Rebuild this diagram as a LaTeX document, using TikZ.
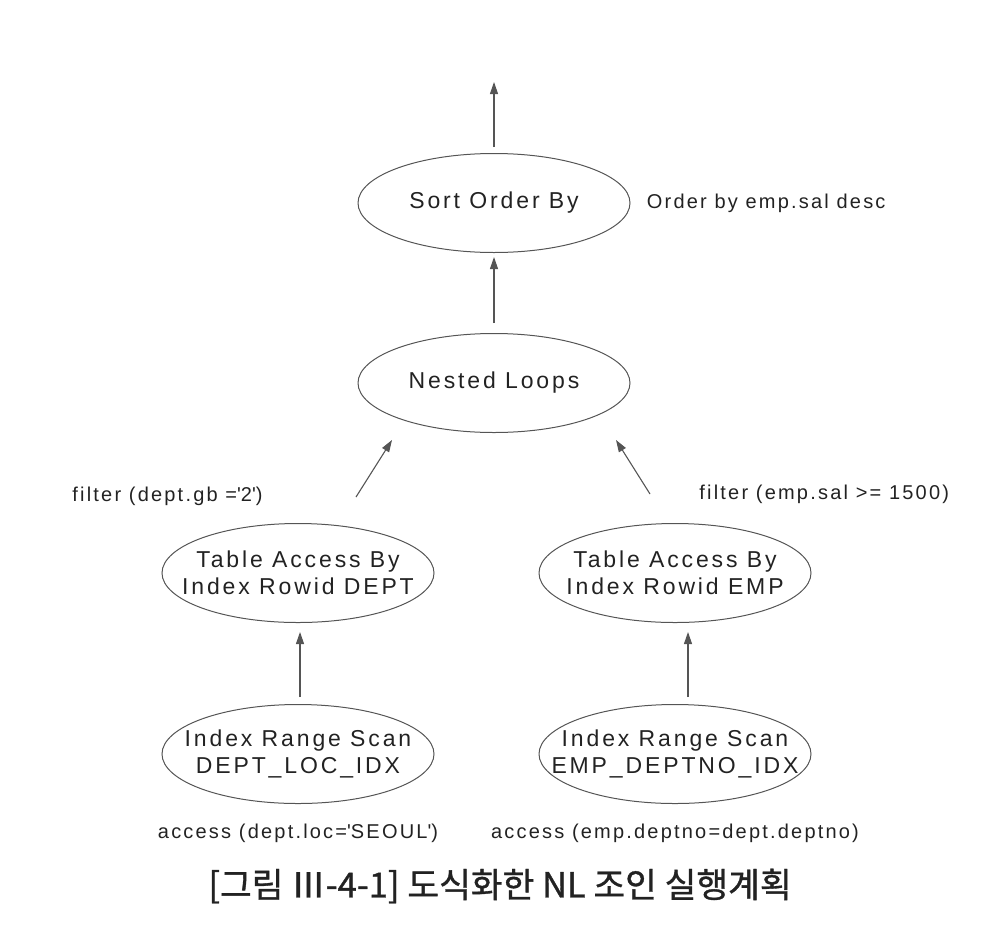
\documentclass[tikz,border=0pt]{standalone}
\usepackage{fontspec}
\setmainfont{Liberation Sans}
\newfontfamily\opfont[LetterSpace=12.5]{Liberation Sans}
\newfontfamily\notefont[LetterSpace=11]{Liberation Sans}
\newfontfamily\cjk[FakeBold=1]{Noto Sans CJK KR}
\usetikzlibrary{arrows.meta}
\usetikzlibrary{positioning}
\usetikzlibrary{shapes.geometric}
\definecolor{inkgray}{HTML}{222222}
\definecolor{edgegray}{HTML}{555555}

\begin{document}
\begin{tikzpicture}[x=0.5pt,y=-0.5pt]
		\useasboundingbox (0,0) rectangle (984,942);
		\begin{scope}[every node/.style={ellipse,draw=edgegray,line width=0.5pt,text=inkgray,
		              minimum width=136pt,minimum height=49.5pt,inner sep=-30pt,align=center,
		              font=\opfont\fontsize{11.5}{13.5}\selectfont}]
		    	\node (sort) at (494,203) {Sort Order By};
			\node (nested) at (494,383) {Nested Loops};
		    	\node (dtab) at (298,573) {Table Access By\\Index Rowid DEPT};
			\node (etab) at (675,573) {Table Access By\\Index Rowid EMP};
		    	\node (dscan) at (298,754) {Index Range Scan\\DEPT\_LOC\_IDX};
			\node (escan) at (675,754) {Index Range Scan\\EMP\_DEPTNO\_IDX};
		\end{scope}
		
		\begin{scope}[every node/.style={text=inkgray,inner sep=0pt,
		              font=\notefont\fontsize{10}{12}\selectfont}]
			\node[anchor=west,right=8pt of sort] (orderby) {Order by emp.sal desc};
			\node[anchor=west] (dfilter) at (72,496) {filter (dept.gb =\textquotesingle2\textquotesingle)};
			\node[anchor=west] (efilter) at (699,494) {filter (emp.sal >= 1500)};
			\node (daccess) at (298,833) {access (dept.loc=\textquotesingle SEOUL\textquotesingle)};
			\node (eaccess) at (675,833) {access (emp.deptno=dept.deptno)};
		\end{scope}
		
		\node[text=inkgray,font=\cjk\fontsize{17.25}{20}\selectfont] (caption) at (500,886)
			{[그림 Ⅲ-4-1] 도식화한 NL 조인 실행계획};
		
		\begin{scope}[>={Triangle[length=6pt,width=4pt]},
		              every edge/.style={draw=edgegray,line width=0.55pt}]
			\coordinate (out) at (494,82);
			\path (sort) edge[->,shorten <=3pt] (out);
			\path (nested) edge[->,shorten <=5pt,shorten >=2pt] (sort);
			\path ([shift={(58,-26)}]dtab.north) edge[->] ([shift={(-102,7)}]nested.south);
			\path ([shift={(-25,-29)}]etab.north) edge[->] ([shift={(122,7)}]nested.south);
			\path ([shift={(2,-7)}]dscan.north) edge[->] ([shift={(2,9)}]dtab.south);
			\path ([shift={(13,-7)}]escan.north) edge[->] ([shift={(13,9)}]etab.south);
		\end{scope}
		\end{tikzpicture}
\end{document}
